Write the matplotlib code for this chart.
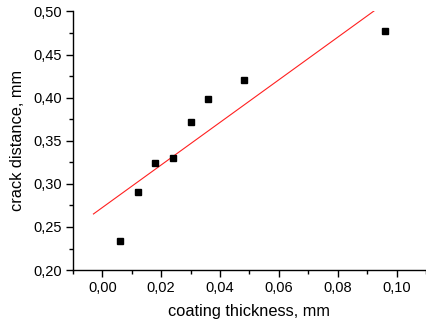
import numpy as np
import matplotlib
matplotlib.use("Agg")
import matplotlib.pyplot as plt
from matplotlib.ticker import MultipleLocator, FuncFormatter

plt.rcParams['font.family'] = ['Liberation Sans', 'DejaVu Sans']

thickness = [0.006, 0.012, 0.018, 0.024, 0.030, 0.036, 0.048, 0.096]
crack_distance = [0.234, 0.291, 0.324, 0.330, 0.372, 0.399, 0.420, 0.477]
fit_x_range = [-0.003, 0.095]

fig = plt.figure(figsize=(4.26, 3.27), dpi=100)
ax = fig.add_axes([0.171, 0.174, 0.829, 0.791])

slope, intercept = np.polyfit(thickness, crack_distance, 1)
fx = np.array(fit_x_range)
ax.plot(fx, slope * fx + intercept, color='#ff2020', lw=0.8)
ax.plot(thickness, crack_distance, 's', color='black', ms=4.5, clip_on=False)

ax.set_xlim(-0.01, 0.11)
ax.set_ylim(0.20, 0.50)
ax.xaxis.set_major_locator(MultipleLocator(0.02))
ax.xaxis.set_minor_locator(MultipleLocator(0.01))
ax.yaxis.set_major_locator(MultipleLocator(0.05))
ax.yaxis.set_minor_locator(MultipleLocator(0.025))
ax.xaxis.set_major_formatter(FuncFormatter(lambda v, p: f"{v:.2f}".replace('.', ',').replace('-0,00', '0,00')))
ax.yaxis.set_major_formatter(FuncFormatter(lambda v, p: f"{v:.2f}".replace('.', ',')))

for s in ['top', 'right']:
    ax.spines[s].set_visible(False)
for s in ['left', 'bottom']:
    ax.spines[s].set_linewidth(1.0)
ax.tick_params(which='major', direction='out', length=5, width=1.0, labelsize=10.5, pad=3)
ax.tick_params(which='minor', direction='out', length=3, width=1.0)

ax.set_xlabel('coating thickness, mm', fontsize=11.8, labelpad=6)
ax.set_ylabel('crack distance, mm', fontsize=11.8, labelpad=6)

fig.savefig('out.png', dpi=100)
